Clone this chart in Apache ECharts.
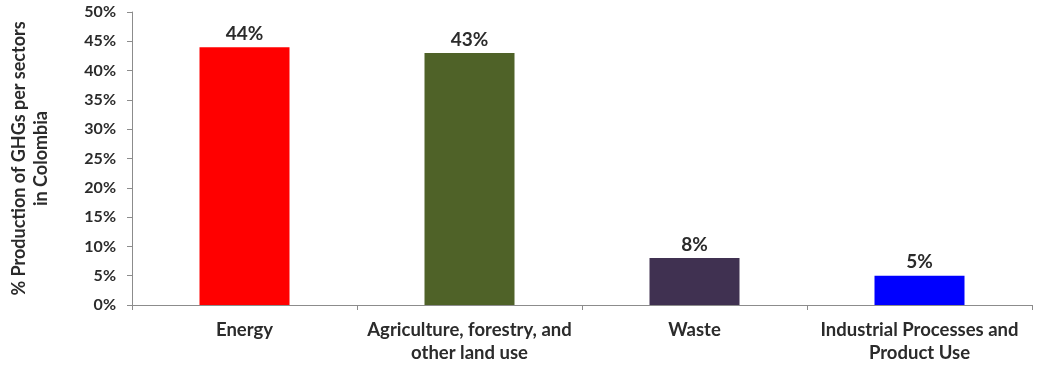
<!DOCTYPE html>
<html>
<head>
<meta charset="utf-8">
<script src="https://cdn.jsdelivr.net/npm/echarts@6/dist/echarts.min.js"></script>
<style>html,body{margin:0;padding:0;background:#fff;}#c{width:1038px;height:370px;}</style>
</head>
<body>
<div id="c"></div>
<script>
const categories = ["Energy", "Agriculture, forestry, and\nother land use", "Waste", "Industrial Processes and\nProduct Use"];
const values = [44, 43, 8, 5];
const barColors = ["#ff0000", "#4f6228", "#403151", "#0000ff"];
const yTicks = [0, 5, 10, 15, 20, 25, 30, 35, 40, 45, 50];

const font = "Lato";
const chart = echarts.init(document.getElementById('c'));
chart.setOption({
  animation: false,
  grid: { left: 132, right: 6, top: 12, bottom: 65, containLabel: false, outerBoundsMode: 'none' },
  xAxis: {
    type: 'category',
    data: categories,
    axisLine: { lineStyle: { color: '#8c8c8c', width: 1 } },
    axisTick: { show: true, alignWithLabel: false, length: 5, lineStyle: { color: '#8c8c8c' } },
    axisLabel: { interval: 0, color: '#2b2b2b', fontFamily: font, fontWeight: 'bold', fontSize: 18.5, margin: 14, lineHeight: 23 }
  },
  yAxis: {
    type: 'value',
    min: yTicks[0], max: yTicks[yTicks.length - 1], interval: 5,
    name: '% Production of GHGs per sectors\nin Colombia',
    nameLocation: 'middle',
    nameGap: 80,
    nameRotate: 90,
    nameTextStyle: { color: '#2b2b2b', fontFamily: font, fontWeight: 'bold', fontSize: 18, lineHeight: 22 },
    axisLine: { show: true, lineStyle: { color: '#8c8c8c' } },
    axisTick: { show: true, length: 5, lineStyle: { color: '#8c8c8c' } },
    splitLine: { show: false },
    axisLabel: { color: '#2b2b2b', fontFamily: font, fontWeight: 'bold', fontSize: 16, margin: 16, formatter: v => v + '%' }
  },
  series: [{
    type: 'bar',
    barWidth: '40%',
    data: values.map((v, i) => ({ value: v, itemStyle: { color: barColors[i] } })),
    label: { show: true, position: 'top', distance: 4, color: '#2b2b2b', fontFamily: font, fontWeight: 'bold', fontSize: 19, formatter: p => p.value + '%' }
  }]
});
</script>
</body>
</html>
